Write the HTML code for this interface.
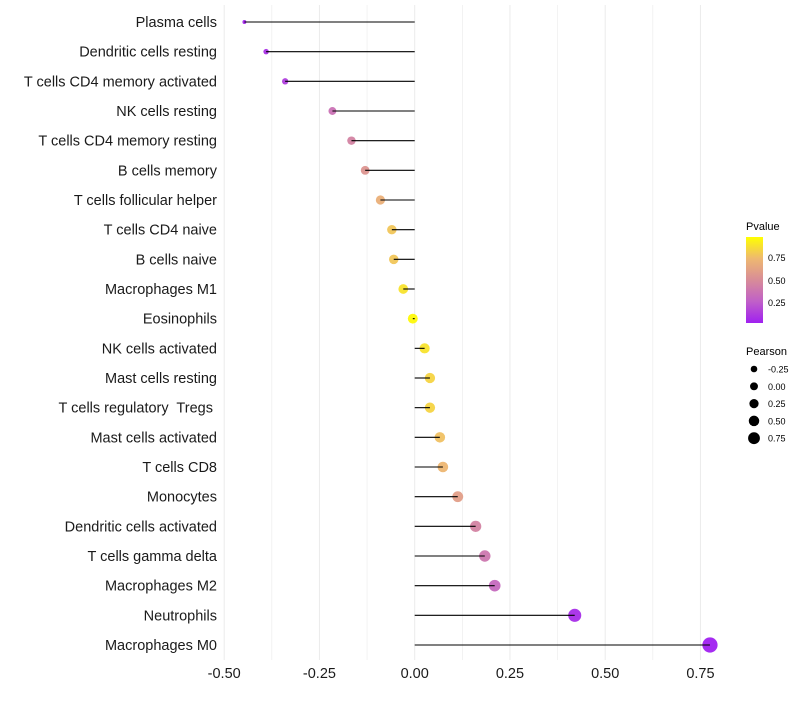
<!DOCTYPE html>
<html><head><meta charset="utf-8"><style>
body{margin:0;background:#fff;font-family:"Liberation Sans",sans-serif}
text{white-space:pre}
</style></head><body>
<svg id="chart" width="800" height="700" xmlns="http://www.w3.org/2000/svg" style="font-family:'Liberation Sans',sans-serif">
<g id="grid"></g>
<g id="marks"></g>
<g id="ylabels"></g>
<g id="xlabels"></g>
<g id="legend">
<defs><linearGradient id="pg" x1="0" y1="1" x2="0" y2="0">
<stop offset="0" stop-color="#a020f0"/><stop offset="0.25" stop-color="#c060c8"/><stop offset="0.5" stop-color="#d88c98"/><stop offset="0.75" stop-color="#eeb870"/><stop offset="1" stop-color="#ffff00"/></linearGradient></defs>
<text x="746" y="230" font-size="11">Pvalue</text>
<rect x="746" y="237" width="17" height="86" fill="url(#pg)"/>
<text x="768" y="261" font-size="9">0.75</text>
<text x="768" y="284" font-size="9">0.50</text>
<text x="768" y="306" font-size="9">0.25</text>
<text x="746" y="355" font-size="11">Pearson</text>
</g>
</svg>
<script>
const categories=["Plasma cells","Dendritic cells resting","T cells CD4 memory activated","NK cells resting","T cells CD4 memory resting","B cells memory","T cells follicular helper","T cells CD4 naive","B cells naive","Macrophages M1","Eosinophils","NK cells activated","Mast cells resting","T cells regulatory  Tregs ","Mast cells activated","T cells CD8","Monocytes","Dendritic cells activated","T cells gamma delta","Macrophages M2","Neutrophils","Macrophages M0"];
const pearson=[-0.447,-0.39,-0.34,-0.216,-0.166,-0.13,-0.09,-0.06,-0.055,-0.03,-0.005,0.026,0.04,0.04,0.066,0.074,0.113,0.16,0.184,0.21,0.42,0.775];
const pvalue=[0.02,0.07,0.12,0.35,0.45,0.55,0.7,0.8,0.8,0.9,0.98,0.9,0.85,0.85,0.78,0.74,0.6,0.45,0.38,0.3,0.05,0.0001];
const xTicks=[-0.5,-0.25,0,0.25,0.5,0.75];
const xTickLabels=["-0.50","-0.25","0.00","0.25","0.50","0.75"];
const sizeLegend=[-0.25,0,0.25,0.5,0.75];
const sizeLegendLabels=["-0.25","0.00","0.25","0.50","0.75"];
const NS="http://www.w3.org/2000/svg";
const x=v=>414.7+v*381;
const y=i=>22+i*(623/21);
const r=v=>1.8+5.8*Math.pow(Math.max(0,(v+0.45)/1.22),0.6);
const rl=v=>3.3+(v+0.25)*2.6;
const stops=[[0,[160,32,240]],[0.25,[192,96,200]],[0.5,[216,140,152]],[0.75,[238,184,112]],[1,[255,255,0]]];
function col(p){for(let k=1;k<stops.length;k++){if(p<=stops[k][0]){const a=stops[k-1],b=stops[k],t=(p-a[0])/(b[0]-a[0]);return"rgb("+a[1].map((c,j)=>Math.round(c+(b[1][j]-c)*t)).join(",")+")";}}return"rgb(255,255,0)";}
function mk(t,a,parent){const e=document.createElementNS(NS,t);for(const k in a)e.setAttribute(k,a[k]);document.getElementById(parent).appendChild(e);return e;}
for(let g=-0.5;g<=0.751;g+=0.125){const l=mk("line",{x1:x(g),x2:x(g),y1:5,y2:660,stroke:"#ebebeb","stroke-width":Math.abs(g*4-Math.round(g*4))<1e-6?1:0.6},"grid");

}
categories.forEach((c,i)=>{
const pt=mk("circle",{cx:x(pearson[i]),cy:y(i),r:r(pearson[i]),fill:col(pvalue[i]),"fill-opacity":0.95},"marks");


const sg=mk("line",{x1:x(0),x2:x(pearson[i]),y1:y(i),y2:y(i),stroke:"#000","stroke-width":1.1},"marks");


const t=mk("text",{x:217,y:y(i)+5,"text-anchor":"end","font-size":14.5,fill:"#1a1a1a"},"ylabels");
t.textContent=c;


});
xTicks.forEach((v,i)=>{const t=mk("text",{x:x(v),y:678,"text-anchor":"middle","font-size":14.5,fill:"#1a1a1a"},"xlabels");
t.textContent=xTickLabels[i];

});
sizeLegend.forEach((v,i)=>{const cy=369+i*17.3;
const c=mk("circle",{cx:754,cy:cy,r:rl(v),fill:"#000"},"legend");


const t=mk("text",{x:768,y:cy+3.5,"font-size":9},"legend");
t.textContent=sizeLegendLabels[i];

});
</script>
</body></html>
